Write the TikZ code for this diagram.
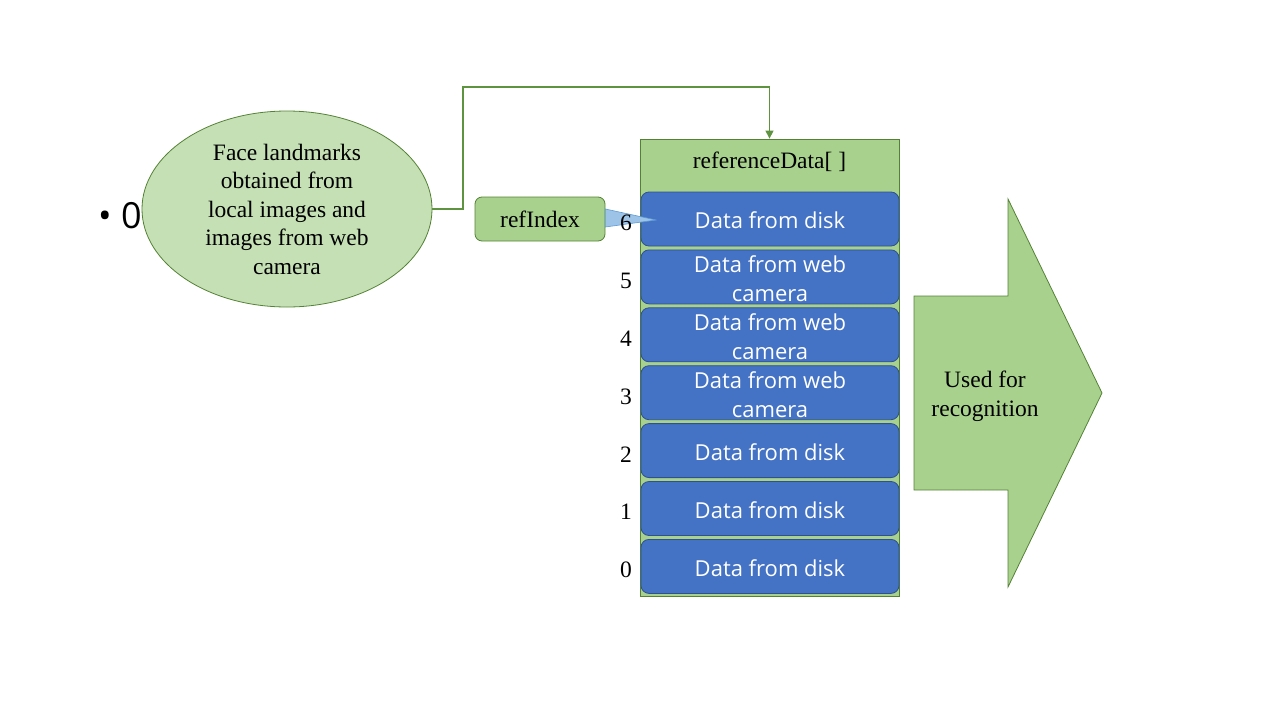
\documentclass[tikz,border=0pt]{standalone}
\usepackage{fontspec}
\setmainfont{Liberation Serif}
\newfontfamily\uisans{Open Sans}
\usetikzlibrary{shapes.geometric,arrows.meta}
\definecolor{gfill}{HTML}{A9D18E}
\definecolor{gfilllight}{HTML}{C5E0B4}
\definecolor{gline}{HTML}{548235}
\definecolor{gconn}{HTML}{5E9440}
\definecolor{bfill}{HTML}{4472C4}
\definecolor{bline}{HTML}{2F528F}
\definecolor{tipfill}{HTML}{9DC3E6}
\definecolor{tipline}{HTML}{5B9BD5}
\tikzset{
  serif/.style={font=\fontsize{23.5}{28.5}\selectfont, text=black},
  ellbox/.style={ellipse, draw=gline, fill=gfilllight, line width=0.8pt, minimum width=290pt, minimum height=196pt, inner sep=0pt, serif, align=center},
  container/.style={rectangle, draw=gline, fill=gfill, line width=0.8pt, minimum width=259pt, minimum height=457pt, inner sep=0pt},
  datarow/.style={rectangle, rounded corners=8pt, draw=bline, fill=bfill, line width=0.8pt, minimum width=258pt, minimum height=54pt, inner sep=0pt},
  rowtext/.style={text=white, font=\uisans\fontsize{22}{29}\selectfont, align=center, inner sep=0pt},
  idxlabel/.style={serif, inner sep=0pt},
  refbox/.style={rectangle, rounded corners=7pt, draw=gline, fill=gfill, line width=0.8pt, minimum width=130pt, minimum height=44pt, inner sep=0pt, serif},
  conn/.style={draw=gconn, line width=1.2pt, -{Triangle[length=8pt,width=8pt]}},
  bigarrow/.style={draw=gline, fill=gfill, line width=0.8pt, line join=miter},
}
\begin{document}
\begin{tikzpicture}[x=1pt,y=-1pt]
\useasboundingbox (0,0) rectangle (1280,720);
% bullet
\node[inner sep=0pt, anchor=west, font=\uisans\fontsize{36}{40}\selectfont] (bullet) at (98,216) {\textbullet\ 0};
% ellipse
\node[ellbox] (face) at (287,209) {Face landmarks\\obtained from\\local images and\\images from web\\camera};
% container
\node[container] (refdata) at (769.5,367.5) {};
\node[serif, inner sep=0pt] (title) at (769.5,162) {referenceData[ ]};
% data rows
\node[datarow] (d6) at (770,219.0) {};
\node[datarow] (d5) at (770,276.9) {};
\node[datarow] (d4) at (770,334.8) {};
\node[datarow] (d3) at (770,392.7) {};
\node[datarow] (d2) at (770,450.6) {};
\node[datarow] (d1) at (770,508.5) {};
\node[datarow] (d0) at (770,566.4) {};
\node[rowtext] (t6) at ([yshift=-1.5pt]d6.center) {Data from disk};
\node[rowtext] (t5) at ([yshift=-1.5pt]d5.center) {Data from web\\camera};
\node[rowtext] (t4) at ([yshift=-1.5pt]d4.center) {Data from web\\camera};
\node[rowtext] (t3) at ([yshift=-1.5pt]d3.center) {Data from web\\camera};
\node[rowtext] (t2) at ([yshift=-1.5pt]d2.center) {Data from disk};
\node[rowtext] (t1) at ([yshift=-1.5pt]d1.center) {Data from disk};
\node[rowtext] (t0) at ([yshift=-1.5pt]d0.center) {Data from disk};
% refIndex with pointer
\node[refbox] (refidx) at (540,219) {refIndex};
\coordinate (tip) at (656,220);
\filldraw[fill=tipfill, draw=tipline, line width=0.6pt] ([yshift=-8pt]refidx.east) -- (tip) -- ([yshift=10pt]refidx.east) -- cycle;
% indices
\node[idxlabel] (i6) at (626,223) {6};
\node[idxlabel] (i5) at (626,281) {5};
\node[idxlabel] (i4) at (626,339) {4};
\node[idxlabel] (i3) at (626,397) {3};
\node[idxlabel] (i2) at (626,455) {2};
\node[idxlabel] (i1) at (626,512) {1};
\node[idxlabel] (i0) at (626,570) {0};
% connector
\coordinate (bend) at (463,87);
\draw[conn] (face.east) -| (bend) -| (refdata.north);
% big arrow
\draw[bigarrow] (914,296) -- (1008,296) -- (1008,199) -- (1102,393) -- (1008,587) -- (1008,490) -- (914,490) -- cycle;
\node[serif, align=center, inner sep=0pt] (used) at (985,396.5) {Used for\\recognition};
\end{tikzpicture}
\end{document}
